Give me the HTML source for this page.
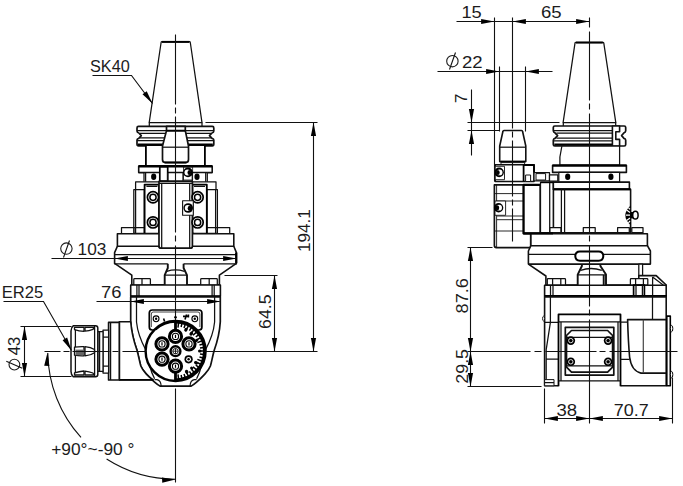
<!DOCTYPE html>
<html>
<head>
<meta charset="utf-8">
<title>Angle head drawing</title>
<style>
html,body{margin:0;padding:0;background:#fff;}
body{width:683px;height:486px;overflow:hidden;font-family:"Liberation Sans",sans-serif;}
svg{display:block;position:absolute;left:0;top:0;}
svg text{font-family:"Liberation Sans",sans-serif;font-size:16.6px;fill:#1c1c1c;}
.o{fill:none;stroke:#111;stroke-width:1.25;stroke-linejoin:round;stroke-linecap:butt;}
.w{fill:#fff;stroke:#111;stroke-width:1.25;stroke-linejoin:round;}
.k{fill:none;stroke:#000;stroke-width:2;stroke-linejoin:round;}
.kw{fill:#fff;stroke:#000;stroke-width:2;stroke-linejoin:round;}
.d{fill:none;stroke:#111;stroke-width:1.1;}
.c{fill:none;stroke:#111;stroke-width:1;stroke-dasharray:60 3 6 3;}
.a{fill:#000;stroke:none;}
.b{fill:#000;stroke:none;}
</style>
</head>
<body>
<svg width="683" height="486" viewBox="0 0 683 486">
<rect x="0" y="0" width="683" height="486" fill="#fff"/>
<defs>
<g id="bolt">
<circle cx="0" cy="0" r="5.6" fill="#fff" stroke="#000" stroke-width="1.7"/>
<circle cx="0" cy="0" r="3.1" fill="#fff" stroke="#000" stroke-width="1.5"/>
</g>
<g id="scr">
<circle cx="0" cy="0" r="6.1" fill="#fff" stroke="#000" stroke-width="3"/>
<circle cx="0" cy="0" r="3.1" fill="#fff" stroke="#000" stroke-width="1.1"/>
<path d="M0,-1.6 V1.6" stroke="#000" stroke-width="1.2"/>
</g>
<path id="ar" d="M0,0 L-13.4,2.6 L-13.4,-2.6 Z" fill="#000"/>
</defs>

<!-- ================= LEFT VIEW ================= -->
<g id="left">
<!-- cone -->
<path class="w" d="M161.1,42.5 Q161.2,41.7 162,41.7 H189.4 Q190.2,41.7 190.3,42.5 L202,122.6 H149.2 Z"/>
<path class="k" d="M162,41.9 H189.4"/>
<path class="o" d="M149.3,122.6 V126.4 M202,122.6 V126.4"/>
<!-- flange -->
<path class="w" d="M138.5,126.4 H212.3 Q213.8,126.4 213.8,128 V131 Q213.8,132.6 212,133 L209.5,135.6 L212,138.3 Q213.8,138.7 213.8,140 V144 Q213.8,145.8 212.3,145.8 H138.5 Q137,145.8 137,144 V140 Q137,138.7 138.8,138.3 L141.3,135.6 L138.8,133 Q137,132.6 137,131 V128 Q137,126.4 138.5,126.4 Z" style="stroke-width:1.7"/>
<path class="o" d="M137,130.6 H213.8 M140,133.4 H211 M140,137.9 H211 M137,140.6 H213.8"/>
<path class="k" d="M138,144.6 H212.8" style="stroke-width:2.2"/>
<!-- cylinder under flange -->
<path d="M145.9,146 H204.9 V166 H145.9 Z" fill="#fff"/>
<path class="k" d="M145.9,146 V166 M204.9,146 V166" style="stroke-width:1.8"/>
<!-- pull stud -->
<path class="w" d="M166.5,126.4 H185.3 V130.6 L188.5,146 V159.5 Q188.5,162.5 185.8,162.5 H165.2 Q162.5,162.5 162.5,159.5 V146 L166.5,130.6 Z" style="stroke-width:1.7"/>
<path class="k" d="M166.5,130.8 H185.3 M164.5,162.6 H186.5"/>
<path class="o" d="M162.5,147.2 H188.5"/>
<!-- plate -->
<path class="w" d="M138.7,166 H212.2 V172.6 H138.7 Z" style="stroke-width:1.6"/>
<path class="k" d="M138.7,166.2 H212.2" style="stroke-width:2.4"/>
<!-- below plate -->
<path class="w" d="M144,172.6 H207.3 V182.7 H144 Z"/>
<path class="o" d="M145.6,172.6 V182.7 M205.7,172.6 V182.7"/>
<path class="w" d="M159.8,172.6 H192.3 V181.2 H159.8 Z"/>
<path class="kw" d="M159.8,167 H167.7 V181.2 H159.8 Z" style="stroke-width:1.7"/>
<path class="o" d="M167.6,172.6 V181.2 M183,172.6 V181.2"/>
<ellipse class="b" cx="153.7" cy="176.7" rx="2.6" ry="3.2"/>
<ellipse class="b" cx="197" cy="176.7" rx="2.6" ry="3.2"/>
<path class="o" d="M183.5,167 H192.6 V180 H183.5 Z" style="stroke-width:.8"/>
<circle cx="188" cy="172.4" r="4.9" fill="#000"/>
<circle cx="187.5" cy="172.4" r="3" fill="#fff"/>
<ellipse cx="189.3" cy="172.6" rx="1.8" ry="2.5" fill="#000"/>
<!-- top plate of clamp section -->
<path class="w" d="M135.6,181.8 H216 V189.6 H135.6 Z"/>
<!-- outer columns -->
<path class="w" d="M133.8,189.6 H144.3 V233.4 H133.8 Z"/>
<path class="w" d="M206.9,189.6 H217.4 V233.4 H206.9 Z"/>
<path class="o" d="M135.6,189.6 V233 M215.6,189.6 V233"/>
<path class="o" d="M133.8,227.6 H144.3 M206.9,227.6 H217.4"/>
<!-- inner blocks -->
<path class="kw" d="M144.6,184.6 H159 V233.6 H144.6 Z" style="stroke-width:1.8"/>
<path class="kw" d="M192.4,184.6 H206.8 V233.6 H192.4 Z" style="stroke-width:1.8"/>
<path class="o" d="M146.4,186.4 H157.4 M194,186.4 H205"/>
<!-- center column -->
<path class="w" d="M159,181.4 H192.4 V246 Q192.4,248.2 190.4,248.2 H161 Q159,248.2 159,246 Z" style="stroke-width:1.7"/>
<path class="o" d="M161.7,183.4 V248 M189.7,183.4 V248 M159,183.4 H192.4"/>
<!-- bolts -->
<use href="#bolt" x="153" y="197.3"/>
<use href="#bolt" x="153" y="222.4"/>
<use href="#bolt" x="197.6" y="197.3"/>
<use href="#bolt" x="197.6" y="222.4"/>
<!-- small screw box -->
<path class="o" d="M182.6,200.8 H193.3 V215.2 H182.6 Z" style="stroke-width:1.1;fill:#fff"/>
<circle cx="188.2" cy="208" r="4.8" fill="#000"/>
<circle cx="187.7" cy="208" r="2.9" fill="#fff"/>
<ellipse cx="189.5" cy="208.2" rx="1.8" ry="2.5" fill="#000"/>
<!-- bottom lips -->
<path class="w" d="M121.5,227.6 H133.8 V233.6 H121.5 Z"/>
<path class="w" d="M217.4,227.6 H229.7 V233.6 H217.4 Z"/>
<!-- main plate -->
<path class="w" d="M117.4,233.7 H233.8 V246.2 H117.4 Z" style="stroke-width:1.6"/>
<!-- redraw center column bottom over plate -->
<path class="w" d="M159,232 V246 Q159,248.2 161,248.2 H190.4 Q192.4,248.2 192.4,246 V232" style="stroke-width:1.7"/>
<path class="o" d="M161.7,232 V248 M189.7,232 V248"/>
<!-- disc -->
<path class="o" d="M117.4,246.2 L114.6,252.6 V263.4 L131.8,275.2 V285 M233.8,246.2 L236.4,252.6 V263.4 L219.4,275.2 V285" style="stroke-width:1.6"/>
<path class="o" d="M114.3,254.5 H236.9 M114.3,263.8 H167.8 M183.6,263.8 H236.9"/>
<path class="k" d="M236.2,252.6 V263" style="stroke-width:2.2"/>
<!-- centre notch -->
<path class="o" d="M131.8,285 H164.7 V275.2 L167.8,268 V263.8 M219.4,285 H187 V275.2 L183.6,268 V263.8" style="stroke-width:1.9"/>
<path class="o" d="M166.8,271.3 Q175.6,268.4 184.4,271.3 M164.7,275.2 H187"/>
<!-- bolt heads -->
<path class="w" d="M134.6,278.6 H149.6 Q150.4,278.6 150.4,279.4 V285 H133.8 V279.4 Q133.8,278.6 134.6,278.6 Z"/>
<path class="o" d="M142,278.6 V285"/>
<path class="w" d="M201.5,278.6 H216.5 Q217.3,278.6 217.3,279.4 V285 H200.7 V279.4 Q200.7,278.6 201.5,278.6 Z"/>
<path class="o" d="M209.2,278.6 V285"/>
<!-- lower plate -->
<path class="w" d="M130.7,285 H220.4 V296.6 H130.7 Z" style="stroke-width:1.6"/>
<path class="o" d="M136.9,285 V296 M139,285 V296 M212.1,285 V296 M214.2,285 V296"/>
<path class="k" d="M130.7,296.4 H220.4" style="stroke-width:2.4"/>
<!-- body -->
<path class="w" d="M130.7,297 V321.8 C131.6,333 134,342 136.9,350 C138.6,356 139.6,362 140.8,366 C142.4,370 144.4,372 146.6,374.4 C149.6,377.6 152,380 154.6,382.2 C156.6,384 158.4,385.4 160.3,386.2 H190.9 C192.8,385.4 194.6,384 196.6,382.2 C199.2,380 201.6,377.6 204.6,374.4 C206.8,372 208.8,370 210.4,366 C211.6,362 212.6,356 214.3,350 C217.2,342 219.6,333 220.3,321.8 V297 Z" style="stroke-width:1.7"/>
<path class="o" d="M136.5,297 V322 C137.6,333 141.5,342 145.8,350 C147.4,356 148.6,361 149.8,366 C151,371 152.6,375 154.6,378.7 M214.6,297 V322 C213.6,333 209.7,342 205.4,350 C203.8,356 202.6,361 201.4,366 C200.2,371 198.6,375 196.6,378.7"/>
<path class="o" d="M154.6,379.6 H157 Q161,380.4 161.2,386.2 M196.6,379.6 H194.2 Q190.2,380.4 190,386.2" style="stroke-width:1.2"/>
<!-- collet side -->
<path class="w" d="M119.3,321.8 H130.7 C131.6,333 134,342 136.9,350 C138.6,356 139.6,362 140.8,366 C142.4,370 144.4,372 146.6,374.4 C149,377 151,378.6 153,379.8 H119.3 Z" style="stroke-width:1.6"/>
<path class="k" d="M119.3,379.9 H153.4" style="stroke-width:1.9"/>
<path class="w" d="M108.6,322.4 H119.3 V380 H108.6 Z" style="stroke-width:1.7"/>
<path class="o" d="M110.6,322.4 V380"/>
<path class="w" d="M103,330 H108.6 V373 H103 Z"/>
<path class="w" d="M97.8,331.6 H103 V371.4 H97.8 Z"/>
<path class="o" d="M99.6,331.6 V371.4 M103,337 H108.6 M103,366 H108.6"/>
<!-- collet nut -->
<path class="w" d="M73.4,325.7 H95.6 Q97.8,325.7 97.8,328 V374.6 Q97.8,376.8 95.6,376.8 H73.4 Q71,375 71,371.5 V331 Q71,327.5 73.4,325.7 Z" style="stroke-width:1.5"/>
<path class="o" d="M75.4,327 V375.6 M94.6,326 V376.6"/>
<path class="w" d="M74.5,327.4 H84 V331.4 Q79,331 74.5,329.6 Z" style="stroke-width:1.3"/>
<path class="w" d="M85,327.4 H94 L93,329.4 Q89,330.8 85,331.2 Z" style="stroke-width:1.3"/>
<path class="w" d="M74.5,375 H84 V371 Q79,371.4 74.5,372.8 Z" style="stroke-width:1.3"/>
<path class="w" d="M85,375 H94 L93,373 Q89,371.6 85,371.2 Z" style="stroke-width:1.3"/>
<path class="w" d="M74.5,347.2 Q79,346.4 84,346.6 V355.8 Q79,356 74.5,355.2 Z" style="stroke-width:1.3"/>
<path class="w" d="M85,346.6 Q91,347 94.5,349.6 V352.8 Q91,355.4 85,355.8 Z" style="stroke-width:1.3"/>
<path d="M75.5,349.6 H83.5 V355.2 H75.5 Z" fill="#666"/>
<!-- label plate -->
<path class="kw" d="M152.3,310 H198.9 Q201.9,310 201.9,313 V327 Q201.9,330 198.9,330 H152.3 Q149.3,330 149.3,327 V313 Q149.3,310 152.3,310 Z" style="stroke-width:1.7"/>
<path class="o" d="M153.3,312 H197.9 Q199.9,312 199.9,314 V327 M151.3,327 V314 Q151.3,312 153.3,312" style="stroke-width:.8"/>
<circle cx="156.1" cy="318.8" r="2.9" fill="#fff" stroke="#000" stroke-width="1.1"/>
<circle cx="156.1" cy="318.8" r="1.2" fill="#000"/>
<circle cx="194.8" cy="318.8" r="2.9" fill="#fff" stroke="#000" stroke-width="1.1"/>
<circle cx="194.8" cy="318.8" r="1.2" fill="#000"/>
<path class="k" d="M163.6,318.6 L164.6,321.6 M183,316.4 H188.4 M186.6,314.4 L185,319.6 M188.4,314.6 V317.4" style="stroke-width:1.6"/>
<!-- big circle -->
<path class="d" d="M175.5,300.5 V322.5"/>
<circle cx="175.6" cy="351" r="30" fill="#fff" stroke="#000" stroke-width="2.4"/>
<path d="M175.6,322.4 A28.6,28.6 0 0 1 175.6,379.6" fill="none" stroke="#000" stroke-width="2.4"/>
<path d="M178.0,327.7 L178.6,322.7 M181.1,327.0 L182.0,323.2 M184.0,327.9 L185.3,324.2 M186.2,330.2 L188.5,325.6 M189.4,330.6 L191.5,327.4 M191.7,332.4 L194.3,329.5 M193.0,335.3 L196.8,331.9 M195.8,336.9 L198.9,334.7 M197.3,339.5 L200.8,337.6 M197.4,342.6 L202.2,340.8 M199.5,345.0 L203.3,344.1 M200.0,348.0 L203.9,347.5 M199.0,351.0 L204.1,351.0 M200.0,354.0 L203.9,354.5 M199.5,357.0 L203.3,357.9 M197.4,359.4 L202.2,361.2 M197.3,362.5 L200.8,364.4 M195.8,365.1 L198.9,367.3 M193.0,366.7 L196.8,370.1 M191.7,369.6 L194.3,372.5 M189.4,371.4 L191.5,374.6 M186.2,371.8 L188.5,376.4 M184.0,374.1 L185.3,377.8 M181.1,375.0 L182.0,378.8 M178.0,374.3 L178.6,379.3 " fill="none" stroke="#000" stroke-width="1.5"/>
<ellipse cx="185.9" cy="329.8" rx="2.0" ry="1.6" fill="#000" transform="rotate(-64 185.9 329.8)"/>
<ellipse cx="191.3" cy="333.6" rx="2.1" ry="1.7" fill="#000" transform="rotate(-48 191.3 333.6)"/>
<ellipse cx="196.6" cy="340.3" rx="1.7" ry="1.5" fill="#000" transform="rotate(-27 196.6 340.3)"/>
<ellipse cx="199.8" cy="351.0" rx="1.8" ry="1.6" fill="#000" transform="rotate(0 199.8 351.0)"/>
<ellipse cx="196.0" cy="362.8" rx="2.1" ry="1.7" fill="#000" transform="rotate(30 196.0 362.8)"/>
<ellipse cx="191.7" cy="368.3" rx="1.7" ry="1.5" fill="#000" transform="rotate(47 191.7 368.3)"/>
<ellipse cx="186.7" cy="371.8" rx="2.1" ry="1.7" fill="#000" transform="rotate(62 186.7 371.8)"/>
<path d="M155.6,329.6 A29.2,29.2 0 0 1 175.6,321.8" fill="none" stroke="#000" stroke-width="2"/>
<!-- screws -->
<use href="#scr" x="175.5" y="336.4"/>
<use href="#scr" x="162" y="343.9"/>
<use href="#scr" x="189" y="343.9"/>
<use href="#scr" x="162" y="359.2"/>
<use href="#scr" x="175.5" y="366.2"/>
<circle cx="175.5" cy="351.2" r="4.9" fill="#fff" stroke="#000" stroke-width="2.4"/>
<circle cx="175.5" cy="351.2" r="2.7" fill="#fff" stroke="#000" stroke-width=".9"/>
<path class="o" d="M172.8,351.2 H178.2 M175.5,348.5 V353.9" style="stroke-width:.9"/>
<circle cx="188.6" cy="359.3" r="4.1" fill="#000"/>
<circle cx="188.6" cy="359.3" r="2.4" fill="#fff"/>
<circle cx="188.6" cy="359.3" r="1.2" fill="#000"/>
<path class="k" d="M175.5,320 V329.6 M175.5,373 V382" style="stroke-width:2.8"/>
<circle cx="175.5" cy="317.2" r="1.3" fill="#000"/>
</g>


<!-- ================= RIGHT VIEW ================= -->
<g id="right">
<!-- cone -->
<path class="w" d="M575,43.2 Q575.1,42.4 575.9,42.4 H602.9 Q603.7,42.4 603.8,43.2 L615.8,122.6 H563.1 Z"/>
<path class="k" d="M576,42.6 H602.8"/>
<path class="o" d="M563.3,122.6 V126 M615.7,122.6 V126"/>
<!-- flange -->
<path class="w" d="M554.8,126 H624.2 Q625.7,126 625.7,127.6 V130.8 Q625.7,132.4 624,132.8 L621.6,135.6 L624,138.4 Q625.7,138.8 625.7,140.2 V144.4 Q625.7,146 624.2,146 H554.8 Q553.3,146 553.3,144.4 V140.2 Q553.3,138.8 555,138.4 L557.6,135.6 L555,132.8 Q553.3,132.4 553.3,130.8 V127.6 Q553.3,126 554.8,126 Z" style="stroke-width:1.7"/>
<path class="o" d="M553.3,130.5 H612.4 M556.4,133.2 H612.4 M556.4,138.2 H612.4 M553.3,140.8 H612.4"/>
<path class="k" d="M554.3,144.6 H612.4" style="stroke-width:2.2"/>
<path class="w" d="M612.4,126 H619.6 V131.8 H615.8 V139.4 H619.6 V146 H612.4 Z" style="stroke-width:1.6"/>
<!-- collar -->
<path class="w" d="M561.9,146 H619.6 V165.2 H559.9 V157 Z"/>
<!-- plate -->
<path class="w" d="M552.6,165.2 H626.4 V172.4 H552.6 Z" style="stroke-width:1.6"/>
<path class="k" d="M552.6,165.6 H626.4" style="stroke-width:2.4"/>
<!-- under plate -->
<path class="w" d="M558.8,172.4 H619.6 V182.1 H558.8 Z"/>
<ellipse class="b" cx="567.7" cy="176.7" rx="2.6" ry="3.2"/>
<ellipse class="b" cx="610.9" cy="176.7" rx="2.6" ry="3.2"/>
<!-- bottom plate -->
<path class="w" d="M553.3,182.1 H629.4 V189.3 H553.3 Z" style="stroke-width:1.6"/>
<!-- main body -->
<path class="w" d="M553.4,189.4 H630.6 V232.7 H553.4 Z" style="stroke-width:1.6"/>
<path class="k" d="M553.4,189.3 H630.6"/>
<path class="o" d="M561.4,189.4 V232.7 M564.6,189.4 V232.7"/>
<!-- knob -->
<path d="M630.6,205.4 Q620,215.2 630.6,225 Z" fill="#000"/>
<path d="M626.6,210 L630,212.4 M626,215.2 H630 M626.6,220.4 L630,218 M628.4,207.6 L630,209.4 M628.4,222.8 L630,221" stroke="#fff" stroke-width="1.2"/>
<path d="M630.6,212 H634 V218.4 H630.6 Z" fill="#000"/>
<ellipse cx="635.4" cy="215.2" rx="2.7" ry="3.9" fill="#fff" stroke="#000" stroke-width="1.5"/>
<!-- small blocks -->
<path class="w" d="M549.7,227.7 H560.9 V232.7 H549.7 Z M583.3,227.7 H595.2 V232.7 H583.3 Z M617.6,227.7 H629.3 V232.7 H617.6 Z M631.8,227.7 H643 V232.7 H631.8 Z"/>
<!-- left-top block + nozzle -->
<path class="w" d="M502.9,131.5 Q503,130.5 504,130.5 H521.5 Q522.5,130.5 522.6,131.5 L525.8,146 V161.6 H499.7 V146 Z" style="stroke-width:1.6"/>
<path class="o" d="M499.7,147.2 H525.8"/>
<path class="k" d="M500.6,161.8 H525"/>
<path class="w" d="M501,162.6 H524.6 V165 H501 Z" style="stroke-width:.9"/>
<path class="w" d="M495.2,164.8 H534 V181.5 H495.2 Z" style="stroke-width:1.6"/>
<path class="k" d="M523.6,164.8 V181.5 M523.6,165 H534 V172.6" style="stroke-width:1.8"/>
<path class="w" d="M525.6,175 H530.6 V181.5 H525.6 Z" style="stroke-width:1"/>
<path class="w" d="M534,172.6 H549.5 V180.8 H534 Z"/>
<path class="w" d="M536,173.6 H545.6 V180 H536 Z" style="stroke-width:1"/>
<path class="w" d="M549.5,174.8 H557.8 V181 H549.5 Z"/>
<path class="w" d="M495.2,166.3 H504.5 V179.7 H495.2 Z" style="stroke-width:.9"/>
<circle cx="499.1" cy="172.4" r="4.8" fill="#000"/>
<circle cx="499.6" cy="172.4" r="2.9" fill="#fff"/>
<ellipse cx="497.9" cy="172.5" rx="1.8" ry="2.5" fill="#000"/>
<!-- left pipe box -->
<path class="w" d="M494.4,184.9 H523.6 V233.4 H530.7 V247.6 H496.4 Q494.4,247.6 494.4,245.6 Z" style="stroke-width:1.7"/>
<path class="o" d="M496.6,184.9 V247.4 M494.4,193.6 H523.6 M497,201 H523.6 M497,216 H523.6 M497,219.7 H523.6 M494.4,231 H523.6" style="stroke-width:.9"/>
<path class="w" d="M495,201 H505.6 V215.3 H495 Z" style="stroke-width:.9"/>
<circle cx="498.6" cy="207.7" r="4.7" fill="#000"/>
<circle cx="499.1" cy="207.7" r="2.9" fill="#fff"/>
<ellipse cx="497.4" cy="207.8" rx="1.8" ry="2.5" fill="#000"/>
<!-- thick rect -->
<path class="kw" d="M523.6,184.9 H540.5 V233.4 H523.6 Z" style="stroke-width:2.2"/>
<path class="w" d="M540.5,182.4 H549.7 V232.7 H540.5 Z"/>
<path class="o" d="M549.7,182.4 H553.4 V189.4"/>
<path class="k" d="M540.5,182.4 H553.4" style="stroke-width:1.6"/>
<!-- lower plate -->
<path class="w" d="M530.9,233.7 H647.4 V245.7 H530.9 Z" style="stroke-width:1.6"/>
<path class="k" d="M523.6,233.4 H553" style="stroke-width:2"/>
<!-- disc -->
<path class="w" d="M530.9,245.7 L528.4,251 V264.1 H650.4 V251 L647.4,245.7 Z" style="stroke-width:1.6"/>
<path class="o" d="M528.4,254.4 H650.4"/>
<path class="kw" d="M580,251.4 H598.6 Q603.3,251.4 603.3,256.1 Q603.3,260.8 598.6,260.8 H580 Q575.3,260.8 575.3,256.1 Q575.3,251.4 580,251.4 Z" style="stroke-width:2"/>
<!-- tapers -->
<path class="o" d="M528.4,264.1 L545.9,276 V285.2" style="stroke-width:1.6"/>
<path class="w" d="M638.8,264.1 H642.6 V275.6 H638.8 Z"/>
<path class="w" d="M638.8,275.6 H656.2 L666.2,285 V296 H638.8 Z" style="stroke-width:1.6"/>
<path class="o" d="M652.6,277 L663.5,285.2 M652.6,277 V285.2"/>
<!-- centre notch -->
<path class="o" d="M545.9,285.2 H577.7 V274.6 L581.9,266 V264.1 M647.8,285.2 H606 V274.6 L600.4,266 V264.1 M603.7,285 V275 " style="stroke-width:1.9"/>
<path class="o" d="M580.6,270.4 Q591,266.6 601.8,270.4 M577.7,274.8 H606"/>
<!-- bolt heads -->
<path class="w" d="M548.1,278.7 H564.7 Q565.5,278.7 565.5,279.5 V285.2 H547.3 V279.5 Q547.3,278.7 548.1,278.7 Z"/>
<path class="o" d="M552.6,278.7 V285.2 M560.8,278.7 V285.2"/>
<path class="w" d="M631.2,278.7 H647 Q647.8,278.7 647.8,279.5 V285.2 H630.4 V279.5 Q630.4,278.7 631.2,278.7 Z"/>
<path class="o" d="M635.6,278.7 V285.2 M643.4,278.7 V285.2"/>
<!-- lower plate 2 -->
<path class="w" d="M544.6,285.2 H666.2 V296.4 H544.6 Z" style="stroke-width:1.6"/>
<path class="o" d="M550.5,285.2 V296 M553,285.2 V296 M652.6,285.2 V296"/>
<path class="kw" d="M633.6,285.2 H644.4 V296 H633.6 Z" style="stroke-width:1.7"/>
<path class="o" d="M636,285.2 V296 M642.4,285.2 V296"/>
<path class="k" d="M544.6,296.2 H666.8" style="stroke-width:2.4"/>
<!-- body -->
<path class="w" d="M544.6,297 H666.2 V385.8 H544.6 Z" style="stroke-width:1.6"/>
<path class="o" d="M550.4,297 V322.3 L546.2,349.6 M544.6,322.3 H559 M652.5,297 V319.8 M546.2,349.6 V379.6 M546.2,359.2 H558.5"/>
<ellipse cx="543.6" cy="318.6" rx="1" ry="2.4" fill="#fff" stroke="#000" stroke-width=".9"/>
<path class="w" d="M544.6,379.6 H554 V385.8 H544.6 Z" style="stroke-width:1"/>
<path class="o" d="M544.6,382.6 H554"/>
<!-- panels -->
<path d="M558.5,314.4 H620.5 V387.4 H558.5 Z" fill="#fff"/><path class="k" d="M558.5,386.3 V314.4 H620.5 V386.3" style="stroke-width:1.8"/>
<path class="o" d="M558.5,321.8 H620.5 M561,321.8 V380.8 M618,321.8 V380.8 M558.5,380.8 H620.5"/>
<path class="w" d="M565.3,327.3 H613.8 V375.1 H565.3 Z" style="stroke-width:1.7"/>
<path class="w" d="M571.5,330.5 H607.6 L612.6,335.5 V367.1 L607.6,372.1 H571.5 L566.5,367.1 V335.5 Z" style="stroke-width:1.7"/>
<path class="o" d="M566.5,337.3 H612.6 M566.5,365.9 H612.6"/>
<g id="rs">
<circle cx="570.8" cy="340.6" r="4.3" fill="#000"/>
<circle cx="570.8" cy="340.6" r="2.2" fill="none" stroke="#ddd" stroke-width="1"/>
</g>
<use href="#rs" x="37.3" y="0"/>
<use href="#rs" x="0" y="21.2"/>
<use href="#rs" x="37.3" y="21.2"/>
<!-- right motor part -->
<path class="o" d="M620.5,322 H628 M620.5,359.3 H629.6"/>
<path class="w" d="M627.6,319.6 H666.2 V373.1 H641 C633.6,371.4 630.6,365 629.6,357 C628.6,346 628,334 627.6,319.6 Z" style="stroke-width:1.6"/>
<path d="M643.3,319.8 V373" stroke="#444" stroke-width="1.2" fill="none"/>
<path class="kw" d="M666.8,316.1 H670.3 V385.8 H666.8 Z" style="stroke-width:1.6"/>
<ellipse cx="671.6" cy="328.6" rx="1.2" ry="3.2" fill="#fff" stroke="#000" stroke-width="1"/>
<ellipse cx="671.6" cy="374.6" rx="1.2" ry="3.2" fill="#fff" stroke="#000" stroke-width="1"/>
</g>
<!-- ===== LEFT DIMENSIONS ===== -->
<g id="ldim">
<!-- centerline -->
<path class="d" d="M175.5,34.5 V104.5 M175.5,107.5 V113.5 M175.5,116.5 V232.5 M175.5,235.5 V241.5 M175.5,245.5 V300.5"/>
<path class="d" d="M175.5,388.5 V482.5"/>
<!-- horizontal centreline -->
<path class="d" d="M44.5,351.5 H60.5 M63.5,351.5 H69.5 M72.5,351.5 H109.5 M112.5,351.5 H118.5 M122.5,351.5 H146.5 M205.5,351.5 H317.5"/>
<!-- SK40 -->
<text transform="translate(90,71.6) scale(.98,1)">SK40</text>
<path class="d" d="M92.5,75.5 H131.5 L152.5,103.5"/>
<use href="#ar" transform="translate(152.5,103.5) rotate(54)"/>
<!-- 194.1 -->
<path class="d" d="M205.5,122.5 H317.5 M313.5,122.5 V351.5"/>
<use href="#ar" transform="translate(313.5,122.5) rotate(-90)"/>
<use href="#ar" transform="translate(313.5,351.5) rotate(90)"/>
<text transform="translate(310.2,252) rotate(-90) scale(1.03,1)">194.1</text>
<!-- 64.5 -->
<path class="d" d="M224.5,275.5 H277.5 M274.5,275.5 V351.5"/>
<use href="#ar" transform="translate(274.5,275.5) rotate(-90)"/>
<use href="#ar" transform="translate(274.5,351.5) rotate(90)"/>
<text transform="translate(271,329) rotate(-90) scale(1.07,1)">64.5</text>
<!-- dia 103 -->
<path class="d" d="M51.5,258.5 H236.5"/>
<use href="#ar" transform="translate(114.5,258.5) rotate(180)"/>
<use href="#ar" transform="translate(236.5,258.5)"/>
<circle cx="66.4" cy="248.6" r="5.7" fill="none" stroke="#1c1c1c" stroke-width="1.1"/>
<path class="d" d="M63.5,257.5 L69.5,240.5"/>
<text transform="translate(77.6,254.8) scale(1.04,1)">103</text>
<!-- 76 -->
<path class="d" d="M96.5,301.5 H219.5"/>
<use href="#ar" transform="translate(130.5,301.5) rotate(180)"/>
<use href="#ar" transform="translate(220.5,301.5)"/>
<text transform="translate(101,297.6) scale(1.11,1)">76</text>
<!-- ER25 -->
<text transform="translate(1.8,298) scale(1,1)">ER25</text>
<path class="d" d="M3.5,301.5 H43.5 L71.5,350.5"/>
<use href="#ar" transform="translate(71.5,350.5) rotate(60.3)"/>
<!-- dia 43 -->
<path class="d" d="M20.5,326.5 H71.5 M20.5,376.5 H71.5 M24.5,326.5 V376.5"/>
<use href="#ar" transform="translate(24.5,326.5) rotate(-90)"/>
<use href="#ar" transform="translate(24.5,376.5) rotate(90)"/>
<g transform="translate(19.8,369.8) rotate(-90)">
<circle cx="5.2" cy="-5.4" r="5.4" fill="none" stroke="#1c1c1c" stroke-width="1.1"/>
<path class="d" d="M1.5,2.5 L8.5,-13.5"/>
<text x="14.6" y="0">43</text>
</g>
<!-- angle arc -->
<path class="d" d="M47.8,353 A128,128 0 0 0 81,437.4"/>
<path class="d" d="M106.6,459 A128,128 0 0 0 175.5,479.2"/>
<use href="#ar" transform="translate(175.5,479.5) rotate(-3)"/>
<use href="#ar" transform="translate(47.5,352.5) rotate(-87)"/>
<text transform="translate(51.2,454.6) scale(1.045,1)">+90°~-90 °</text>
</g>

<!-- ===== RIGHT DIMENSIONS ===== -->
<g id="rdim">
<!-- centrelines -->
<path class="d" d="M589.5,17.5 V27.5 M589.5,31.5 V100.5 M589.5,103.5 V109.5 M589.5,113.5 V232.5 M589.5,235.5 V241.5 M589.5,245.5 V306.5 M589.5,309.5 V315.5 M589.5,319.5 V423.5"/>
<path class="d" d="M467.5,351.5 H530.5 M534.5,351.5 H541.5 M545.5,351.5 H596.5 M599.5,351.5 H605.5 M609.5,351.5 H677.5"/>
<path class="d" d="M512.5,17.5 V128.5 M512.5,131.5 V137.5 M512.5,140.5 V196.5 M512.5,199.5 V205.5 M512.5,208.5 V241.5"/>
<!-- 15 / 65 -->
<path class="d" d="M456.5,21.5 H589.5 M494.5,17.5 V181.5"/>
<use href="#ar" transform="translate(494.5,21.5)"/>
<use href="#ar" transform="translate(512.5,21.5) rotate(180)"/>
<use href="#ar" transform="translate(589.5,21.5)"/>
<text transform="translate(461.4,18) scale(1.1,1)">15</text>
<text transform="translate(541,18) scale(1.12,1)">65</text>
<!-- dia 22 -->
<path class="d" d="M437.5,71.5 H552.5 M499.5,66.5 V131.5 M525.5,66.5 V131.5"/>
<use href="#ar" transform="translate(499.5,71.5)"/>
<use href="#ar" transform="translate(525.5,71.5) rotate(180)"/>
<circle cx="452.4" cy="61.2" r="5.7" fill="none" stroke="#1c1c1c" stroke-width="1.1"/>
<path class="d" d="M449.5,69.5 L455.5,52.5"/>
<text transform="translate(462,67.8) scale(1.12,1)">22</text>
<!-- 7 -->
<path class="d" d="M471.5,89.5 V155.5 M467.5,122.5 H559.5 M467.5,130.5 H499.5"/>
<use href="#ar" transform="translate(471.5,122.5) rotate(90)"/>
<use href="#ar" transform="translate(471.5,130.5) rotate(-90)"/>
<text transform="translate(467.4,103) rotate(-90)">7</text>
<!-- 87.6 -->
<path class="d" d="M467.5,247.5 H492.5 M470.5,247.5 V386.5 M467.5,386.5 H541.5"/>
<use href="#ar" transform="translate(470.5,247.5) rotate(-90)"/>
<use href="#ar" transform="translate(470.5,351.5) rotate(90)"/>
<use href="#ar" transform="translate(470.5,351.5) rotate(-90)"/>
<use href="#ar" transform="translate(470.5,386.5) rotate(90)"/>
<text transform="translate(467.9,313.4) rotate(-90) scale(1.09,1)">87.6</text>
<text transform="translate(467.9,383.8) rotate(-90) scale(1.08,1)">29.5</text>
<!-- 38 / 70.7 -->
<path class="d" d="M544.5,418.5 H672.5 M544.5,388.5 V423.5 M672.5,377.5 V423.5"/>
<use href="#ar" transform="translate(544.5,418.5) rotate(180)"/>
<use href="#ar" transform="translate(589.5,418.5)"/>
<use href="#ar" transform="translate(589.5,418.5) rotate(180)"/>
<use href="#ar" transform="translate(672.5,418.5)"/>
<text transform="translate(556.4,415.6) scale(1.12,1)">38</text>
<text transform="translate(613.8,415.6) scale(1.08,1)">70.7</text>
</g>
</svg>
</body>
</html>
